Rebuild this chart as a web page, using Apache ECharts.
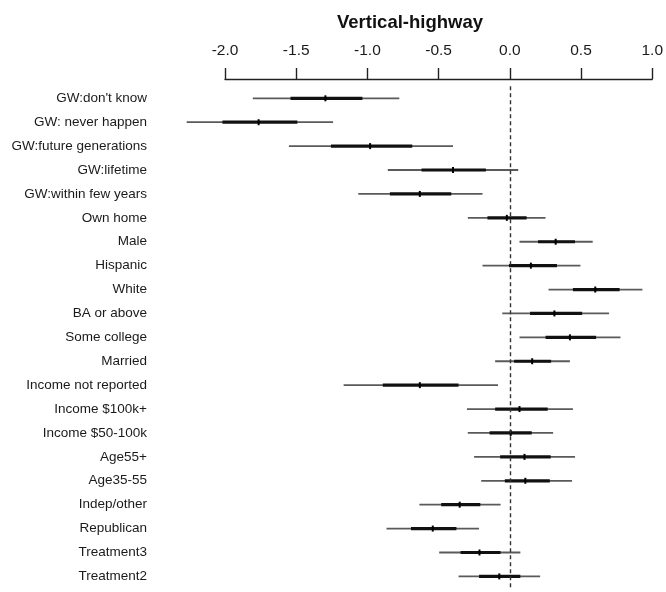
<!DOCTYPE html>
<html>
<head>
<meta charset="utf-8">
<script src="https://cdn.jsdelivr.net/npm/echarts@6/dist/echarts.min.js"></script>
<style>
html,body{margin:0;padding:0;background:#fff;}
#chart{width:666px;height:592px;}
</style>
</head>
<body>
<div id="chart"></div>
<script>
const categories = ["GW:don't know","GW: never happen","GW:future generations","GW:lifetime","GW:within few years","Own home","Male","Hispanic","White","BA or above","Some college","Married","Income not reported","Income $100k+","Income $50-100k","Age55+","Age35-55","Indep/other","Republican","Treatment3","Treatment2"];
const estimate = [-1.295,-1.764,-0.981,-0.399,-0.632,-0.021,0.322,0.148,0.600,0.313,0.422,0.157,-0.632,0.068,0.006,0.103,0.109,-0.352,-0.541,-0.213,-0.074];
const lowOuter = [-1.805,-2.269,-1.551,-0.857,-1.064,-0.295,0.068,-0.192,0.272,-0.053,0.068,-0.103,-1.167,-0.301,-0.295,-0.251,-0.201,-0.635,-0.866,-0.496,-0.360];
const highOuter = [-0.776,-1.241,-0.399,0.059,-0.192,0.251,0.582,0.496,0.931,0.697,0.777,0.422,-0.083,0.443,0.304,0.458,0.437,-0.065,-0.216,0.074,0.213];
const lowInner = [-1.540,-2.018,-1.256,-0.620,-0.842,-0.157,0.198,-0.006,0.443,0.142,0.251,0.030,-0.892,-0.103,-0.142,-0.068,-0.035,-0.482,-0.694,-0.346,-0.216];
const highInner = [-1.035,-1.492,-0.685,-0.168,-0.411,0.118,0.458,0.331,0.771,0.508,0.606,0.290,-0.360,0.266,0.154,0.287,0.281,-0.207,-0.375,-0.065,0.074];
const xTicks = {min:-2, max:1, interval:0.5};

const data = categories.map((c,i)=>[i, lowOuter[i], highOuter[i], lowInner[i], highInner[i], estimate[i]]);

const chart = echarts.init(document.getElementById('chart'), null, {renderer:'canvas'});
chart.setOption({
  animation:false,
  backgroundColor:'#fff',
  title:{
    text:'Vertical-highway',
    left:405, top:8, textAlign:'center',
    textStyle:{fontFamily:'Liberation Sans, Arial, sans-serif', fontWeight:'bold', fontSize:18.5, color:'#111'}
  },
  grid:{left:225, right:12, top:86.35, bottom:3.65, containLabel:false},
  xAxis:{
    type:'value', position:'top', offset:7.35,
    min:xTicks.min, max:xTicks.max, interval:xTicks.interval,
    splitLine:{show:false},
    axisLine:{show:true, lineStyle:{color:'#222', width:1.4}},
    axisTick:{show:true, inside:false, length:11, lineStyle:{color:'#222', width:1.4}},
    axisLabel:{show:true, margin:20, fontFamily:'Liberation Sans, Arial, sans-serif', fontSize:15.5, color:'#1a1a1a',
      formatter:v=>v.toFixed(1)}
  },
  yAxis:{
    type:'category', data:categories, inverse:true, boundaryGap:true,
    axisLine:{show:false}, axisTick:{show:false}, splitLine:{show:false},
    axisLabel:{margin:78, fontFamily:'Liberation Sans, Arial, sans-serif', fontSize:13.5, color:'#1a1a1a'}
  },
  series:[{
    type:'custom',
    data:data,
    encode:{x:[1,2,3,4,5], y:0},
    renderItem:function(params, api){
      const yi = api.value(0);
      const p1 = api.coord([api.value(1), yi]);
      const p2 = api.coord([api.value(2), yi]);
      const p3 = api.coord([api.value(3), yi]);
      const p4 = api.coord([api.value(4), yi]);
      const pe = api.coord([api.value(5), yi]);
      return {type:'group', children:[
        {type:'line', shape:{x1:p1[0], y1:p1[1], x2:p2[0], y2:p2[1]}, style:{stroke:'#5a5a5a', lineWidth:1.8}},
        {type:'line', shape:{x1:p3[0], y1:p3[1], x2:p4[0], y2:p4[1]}, style:{stroke:'#111', lineWidth:3.2}},
        {type:'rect', shape:{x:pe[0]-1, y:pe[1]-3, width:2, height:6}, style:{fill:'#000'}}
      ]};
    },
    markLine:{
      silent:true, symbol:'none',
      label:{show:false},
      lineStyle:{color:'#333', type:[4,3], width:1.4},
      data:[{xAxis:0}]
    },
    z:2
  }]
});
</script>
</body>
</html>
